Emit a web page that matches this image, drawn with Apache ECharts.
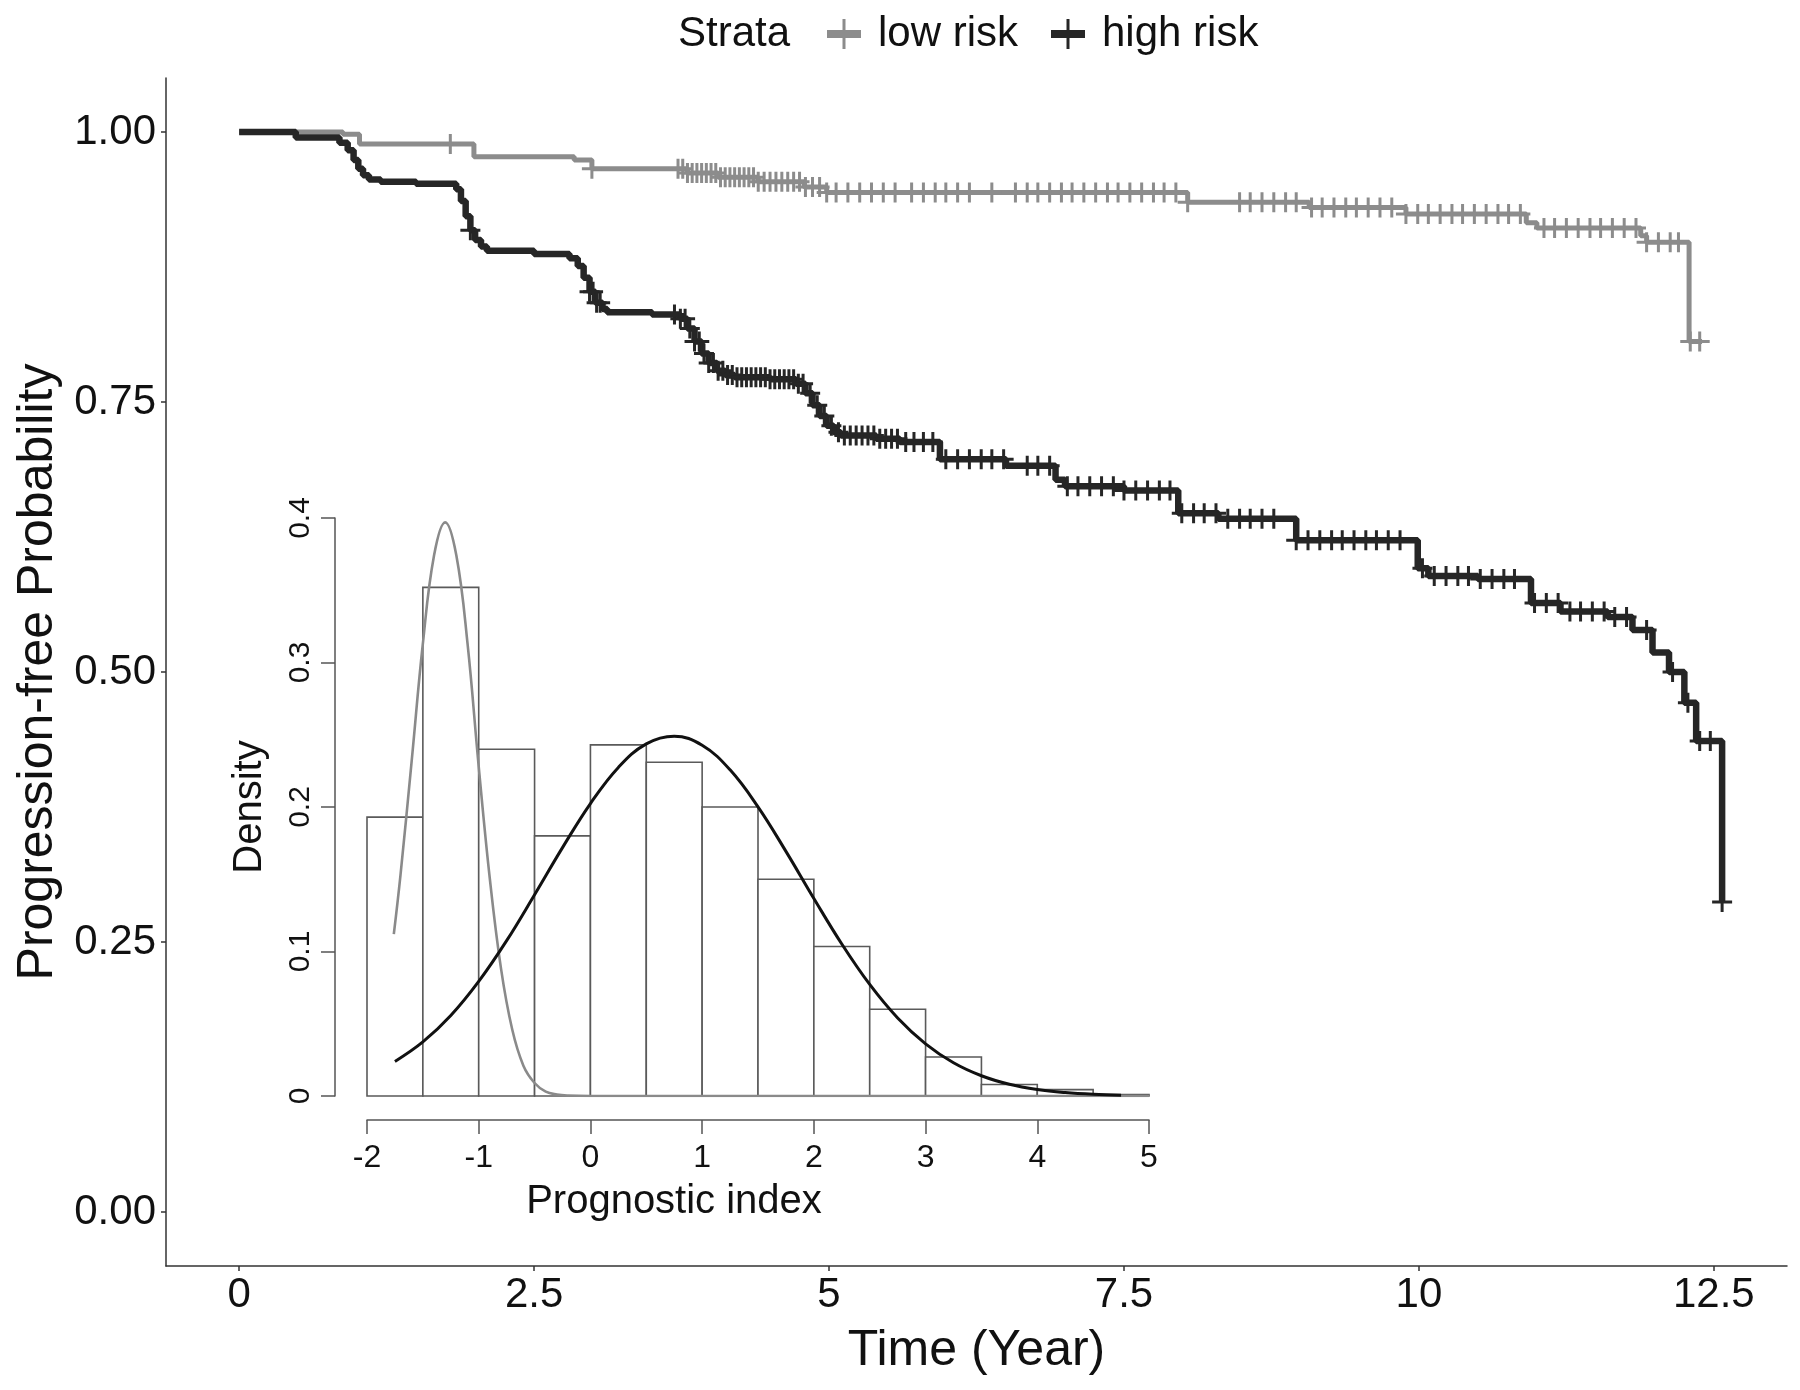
<!DOCTYPE html>
<html><head><meta charset="utf-8">
<script src="https://cdn.jsdelivr.net/npm/echarts@6/dist/echarts.min.js"></script>
<style>html,body{margin:0;padding:0;background:#fff}#c{width:1800px;height:1390px}</style>
</head><body><div id="c"></div><script>
// ---------- Kaplan-Meier step curves ----------
const lowTimes = [0, 0.88, 1.02, 1.99, 2.84, 2.99, 3.8, 4.06, 4.4, 4.79, 4.98, 8.04, 9.07, 9.89, 10.91, 11.0, 11.88, 11.93, 12.29, 12.40];
const lowSurv  = [1.0, 0.998, 0.989, 0.977, 0.974, 0.966, 0.962, 0.958, 0.954, 0.949, 0.944, 0.935, 0.930, 0.924, 0.916, 0.911, 0.904, 0.898, 0.806, 0.806];

const highTimes = [0, 0.48, 0.85, 0.92, 0.97, 1.01, 1.05, 1.1, 1.2, 1.5, 1.84, 1.88, 1.92, 1.96, 2.0, 2.05, 2.1, 2.5, 2.8, 2.87, 2.92, 2.97, 3.02, 3.08, 3.12, 3.5, 3.74, 3.8, 3.86, 3.92, 3.98, 4.05, 4.12, 4.2, 4.5, 4.72, 4.8, 4.86, 4.92, 4.98, 5.04, 5.1, 5.4, 5.6, 5.94, 6.5, 6.92, 7.0, 7.5, 7.96, 8.3, 8.96, 9.99, 10.08, 10.5, 10.95, 11.2, 11.6, 11.81, 11.98, 12.12, 12.25, 12.35, 12.57];
const highSurv  = [1.0, 0.995, 0.99, 0.983, 0.974, 0.966, 0.96, 0.956, 0.954, 0.952, 0.947, 0.936, 0.922, 0.909, 0.9, 0.894, 0.89, 0.887, 0.883, 0.876, 0.865, 0.852, 0.842, 0.836, 0.833, 0.831, 0.827, 0.818, 0.806, 0.795, 0.786, 0.779, 0.775, 0.773, 0.771, 0.767, 0.758, 0.747, 0.737, 0.728, 0.722, 0.719, 0.716, 0.713, 0.697, 0.691, 0.678, 0.672, 0.668, 0.647, 0.642, 0.622, 0.596, 0.589, 0.586, 0.564, 0.556, 0.551, 0.539, 0.518, 0.50, 0.4715, 0.436, 0.287];

// censoring times (marks sit on the curve)
const lowCensorTimes = [1.79, 2.99, 3.72, 3.76, 3.8, 3.84, 3.88, 3.92, 3.96, 4.0, 4.04, 4.08, 4.12, 4.16, 4.2, 4.24, 4.28, 4.32, 4.36, 4.4, 4.45, 4.5, 4.55, 4.6, 4.65, 4.7, 4.75, 4.8, 4.86, 4.92, 4.98, 5.06, 5.16, 5.26, 5.36, 5.46, 5.56,
  5.70, 5.80, 5.90, 5.99, 6.09, 6.19, 6.38, 6.58, 6.68, 6.77, 6.87, 6.97, 7.06, 7.16, 7.26, 7.36, 7.45, 7.55, 7.65, 7.75, 7.84, 7.94, 8.04,
  8.48, 8.57, 8.67, 8.77, 8.87, 8.96, 9.09, 9.18, 9.28, 9.38, 9.47, 9.57, 9.67, 9.77, 9.89, 9.99, 10.08, 10.18, 10.28, 10.37, 10.47, 10.57, 10.67, 10.76, 10.86,
  11.06, 11.15, 11.25, 11.35, 11.45, 11.54, 11.64, 11.74, 11.84, 11.93, 12.03, 12.13, 12.20, 12.30, 12.38];
const highCensorTimes = [1.96, 2.97, 3.0, 3.03, 3.06, 3.69, 3.74, 3.78, 3.82, 3.86, 3.9, 3.94, 3.98, 4.02, 4.06, 4.1, 4.14, 4.18, 4.22, 4.26, 4.3, 4.34, 4.38, 4.42, 4.46, 4.5, 4.54, 4.58, 4.62, 4.66, 4.7, 4.74, 4.78, 4.84, 4.9, 4.96, 5.02, 5.08, 5.13, 5.18, 5.23, 5.28, 5.33, 5.38, 5.43, 5.48, 5.53, 5.58, 5.65, 5.72, 5.8, 5.88,
  5.99, 6.09, 6.19, 6.29, 6.38, 6.48, 6.68, 6.77, 6.87, 7.02, 7.11, 7.21, 7.31, 7.41, 7.50, 7.60, 7.70, 7.80, 7.89, 7.99, 8.09, 8.18, 8.28, 8.38, 8.48, 8.57, 8.67, 8.77,
  8.96, 9.06, 9.16, 9.26, 9.35, 9.45, 9.55, 9.64, 9.74, 9.84, 10.03, 10.13, 10.23, 10.33, 10.42, 10.52, 10.62, 10.72, 10.81,
  10.98, 11.08, 11.18, 11.28, 11.37, 11.47, 11.57, 11.66, 11.76, 11.93, 12.15, 12.28, 12.38, 12.47, 12.57];

const xTickValues = [0, 2.5, 5, 7.5, 10, 12.5];
const yTickValues = [0, 0.25, 0.5, 0.75, 1];

// ---------- inset histogram ----------
const histBinStart = [-2, -1.5, -1, -0.5, 0, 0.5, 1, 1.5, 2, 2.5, 3, 3.5, 4, 4.5];
const histBinEnd   = [-1.5, -1, -0.5, 0, 0.5, 1, 1.5, 2, 2.5, 3, 3.5, 4, 4.5, 5];
const histDensity  = [0.193, 0.352, 0.240, 0.180, 0.243, 0.231, 0.200, 0.150, 0.1035, 0.060, 0.027, 0.008, 0.0044, 0.001];

const insetLowX = [-1.76, -1.7, -1.6, -1.5, -1.4, -1.3, -1.2, -1.1, -1.0, -0.9, -0.8, -0.7, -0.6, -0.5, -0.4, -0.3, -0.2, 0, 5];
const insetLowY = [0.112, 0.153, 0.232, 0.313, 0.374, 0.397, 0.374, 0.313, 0.228, 0.150, 0.088, 0.046, 0.021, 0.009, 0.003, 0.001, 0.0003, 0, 0];
const insetHighX = [-1.75, -1.5, -1.25, -1.0, -0.75, -0.5, -0.25, 0, 0.25, 0.5, 0.75, 1.0, 1.25, 1.5, 1.75, 2.0, 2.25, 2.5, 2.75, 3.0, 3.25, 3.5, 3.75, 4.0, 4.25, 4.5, 4.75];
const insetHighY = [0.0239, 0.0374, 0.0557, 0.0793, 0.1075, 0.1393, 0.1719, 0.2024, 0.2274, 0.2437, 0.249, 0.2427, 0.2257, 0.2001, 0.1693, 0.1367, 0.1052, 0.0772, 0.054, 0.0361, 0.023, 0.014, 0.0081, 0.0045, 0.0024, 0.0012, 0.0006];

// ---------- helpers ----------
const zip = (a, b) => a.map((v, i) => [v, b[i]]);
function survAt(times, surv, t) {
  let v = surv[0];
  for (let i = 0; i < times.length; i++) { if (times[i] <= t + 1e-9) v = surv[i]; }
  return v;
}
const FONT = 'Liberation Sans';
const GRAY = '#8c8c8c';
const BLACK = '#262626';
const plusMark = 'path://M0,8.5 L20,8.5 L20,11.5 L0,11.5 Z M8.5,0 L11.5,0 L11.5,20 L8.5,20 Z';
const legendPlus = 'path://M0,11 L34,11 L34,19 L0,19 Z M15.5,0 L18.5,0 L18.5,30 L15.5,30 Z';

const chart = echarts.init(document.getElementById('c'), null, {renderer: 'canvas'});
chart.setOption({
  animation: false,
  backgroundColor: '#fff',
  textStyle: {fontFamily: FONT},
  title: {text: 'Strata', left: 678, top: 13, padding: 0,
    textStyle: {fontFamily: FONT, fontSize: 42, fontWeight: 'normal', color: '#111'}},
  legend: {
    left: 827, top: 13, padding: 0, itemWidth: 34, itemHeight: 30, itemGap: 33,
    textStyle: {fontFamily: FONT, fontSize: 42, color: '#111', padding: [0, 0, 0, 12]},
    data: [
      {name: 'low risk', icon: legendPlus, itemStyle: {color: GRAY}},
      {name: 'high risk', icon: legendPlus, itemStyle: {color: BLACK}}
    ]
  },
  grid: [
    {left: 166, top: 78, width: 1621, height: 1188},
    {left: 367, top: 518, width: 782, height: 578}
  ],
  xAxis: [
    {type: 'value', gridIndex: 0, min: -0.62, max: 13.12,
      name: 'Time (Year)', nameLocation: 'middle', nameGap: 60,
      nameTextStyle: {fontFamily: FONT, fontSize: 50, color: '#111'},
      axisLine: {show: true, onZero: false, lineStyle: {color: '#333', width: 1.5}},
      axisTick: {show: true, customValues: xTickValues, length: 5, lineStyle: {color: '#333', width: 1.5}},
      axisLabel: {customValues: xTickValues, fontSize: 42, color: '#111', margin: 8, fontFamily: FONT,
        formatter: v => String(v)},
      splitLine: {show: false}},
    {type: 'value', gridIndex: 1, min: -2, max: 5, interval: 1, offset: 24,
      name: 'Prognostic index', nameLocation: 'middle', nameGap: 62,
      nameTextStyle: {fontFamily: FONT, fontSize: 40, color: '#111', padding: [0, 168, 0, 0]},
      axisLine: {show: true, onZero: false, lineStyle: {color: '#555', width: 1.5}},
      axisTick: {show: true, length: 14, lineStyle: {color: '#555', width: 1.5}},
      axisLabel: {fontSize: 32, color: '#111', margin: 22, fontFamily: FONT, formatter: v => String(v)},
      splitLine: {show: false}}
  ],
  yAxis: [
    {type: 'value', gridIndex: 0, min: -0.05, max: 1.05,
      name: 'Progression-free Probability', nameLocation: 'middle', nameGap: 103,
      nameTextStyle: {fontFamily: FONT, fontSize: 50, color: '#111'},
      axisLine: {show: true, onZero: false, lineStyle: {color: '#333', width: 1.5}},
      axisTick: {show: true, customValues: yTickValues, length: 5, lineStyle: {color: '#333', width: 1.5}},
      axisLabel: {customValues: yTickValues, fontSize: 42, color: '#111', margin: 10, fontFamily: FONT,
        formatter: v => v.toFixed(2)},
      splitLine: {show: false}},
    {type: 'value', gridIndex: 1, min: 0, max: 0.4, interval: 0.1, offset: 32,
      name: 'Density', nameLocation: 'middle', nameGap: 65,
      nameTextStyle: {fontFamily: FONT, fontSize: 40, color: '#111'},
      axisLine: {show: true, onZero: false, lineStyle: {color: '#555', width: 1.5}},
      axisTick: {show: true, length: 14, lineStyle: {color: '#555', width: 1.5}},
      axisLabel: {rotate: 90, fontSize: 30, color: '#111', margin: 19, fontFamily: FONT,
        formatter: v => (v === 0 ? '0' : v.toFixed(1))},
      splitLine: {show: false}}
  ],
  series: [
    {name: 'low risk', type: 'line', step: 'end', xAxisIndex: 0, yAxisIndex: 0,
      data: zip(lowTimes, lowSurv), showSymbol: false, silent: true,
      lineStyle: {color: GRAY, width: 5}, itemStyle: {color: GRAY}, z: 3},
    {name: 'high risk', type: 'line', step: 'end', xAxisIndex: 0, yAxisIndex: 0,
      data: zip(highTimes, highSurv), showSymbol: false, silent: true,
      lineStyle: {color: BLACK, width: 6.5}, itemStyle: {color: BLACK}, z: 3},
    {name: 'low risk censor', type: 'scatter', xAxisIndex: 0, yAxisIndex: 0, silent: true,
      symbol: plusMark, symbolSize: 20, itemStyle: {color: GRAY, opacity: 1}, z: 4,
      data: lowCensorTimes.map(t => [t, survAt(lowTimes, lowSurv, t)])},
    {name: 'high risk censor', type: 'scatter', xAxisIndex: 0, yAxisIndex: 0, silent: true,
      symbol: plusMark, symbolSize: 20, itemStyle: {color: BLACK, opacity: 1}, z: 4,
      data: highCensorTimes.map(t => [t, survAt(highTimes, highSurv, t)])},
    {name: 'histogram', type: 'custom', xAxisIndex: 1, yAxisIndex: 1, silent: true, z: 5,
      data: histBinStart.map((s, i) => [s, histBinEnd[i], histDensity[i]]),
      renderItem: function (params, api) {
        const p0 = api.coord([api.value(0), api.value(2)]);
        const p1 = api.coord([api.value(1), 0]);
        return {type: 'rect', shape: {x: p0[0], y: p0[1], width: p1[0] - p0[0], height: p1[1] - p0[1]},
          style: {fill: '#fff', stroke: '#5a5a5a', lineWidth: 1.6}};
      }},
    {name: 'low density', type: 'line', xAxisIndex: 1, yAxisIndex: 1, smooth: 0.4, silent: true, z: 6,
      data: zip(insetLowX, insetLowY), showSymbol: false, lineStyle: {color: '#8a8a8a', width: 2.6}},
    {name: 'high density', type: 'line', xAxisIndex: 1, yAxisIndex: 1, smooth: 0.4, silent: true, z: 7,
      data: zip(insetHighX, insetHighY), showSymbol: false, lineStyle: {color: '#111', width: 3}}
  ]
});
</script></body></html>
